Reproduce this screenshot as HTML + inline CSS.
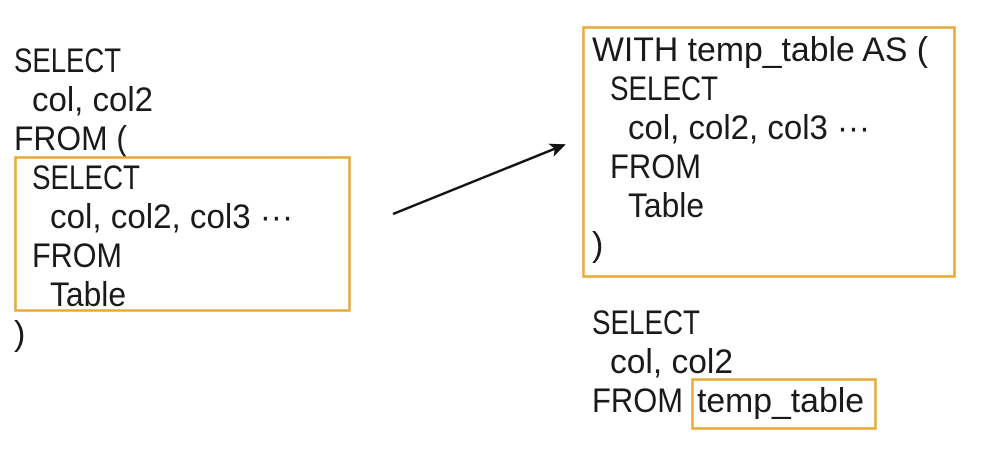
<!DOCTYPE html>
<html><head><meta charset="utf-8"><style>
html,body{margin:0;padding:0;background:#fff;width:994px;height:476px;overflow:hidden}
text{font-family:"Liberation Sans","Noto Sans CJK KR",sans-serif;font-size:34px;fill:#1a1a1a}
</style></head><body>
<svg width="994" height="476" viewBox="0 0 994 476">
<defs><marker id="ah" markerWidth="16" markerHeight="14" refX="14" refY="7" orient="auto" markerUnits="userSpaceOnUse"><path d="M0,0 L16,7 L0,14 L4,7 z" fill="#111"/></marker></defs>
<g>
<text x="14" y="72" textLength="107" lengthAdjust="spacingAndGlyphs">SELECT</text>
<text x="32" y="111" textLength="121" lengthAdjust="spacingAndGlyphs">col, col2</text>
<text x="14" y="150" textLength="113" lengthAdjust="spacingAndGlyphs">FROM (</text>
<text x="32" y="189" textLength="108" lengthAdjust="spacingAndGlyphs">SELECT</text>
<text x="50" y="228" textLength="243" lengthAdjust="spacingAndGlyphs">col, col2, col3 ···</text>
<text x="32" y="267" textLength="90" lengthAdjust="spacingAndGlyphs">FROM</text>
<text x="50" y="306" textLength="76" lengthAdjust="spacingAndGlyphs">Table</text>
<text x="14" y="345">)</text>
</g>
<rect x="15.5" y="157.5" width="334" height="153" fill="none" stroke="#e9a83a" stroke-width="2.5"/>
<line x1="393" y1="214" x2="564" y2="145" stroke="#111" stroke-width="2.5" marker-end="url(#ah)"/>
<rect x="583.5" y="27.5" width="371" height="249" fill="none" stroke="#e9a83a" stroke-width="2.5"/>
<g>
<text x="592" y="61" textLength="336" lengthAdjust="spacingAndGlyphs">WITH temp_table AS (</text>
<text x="610" y="100" textLength="108" lengthAdjust="spacingAndGlyphs">SELECT</text>
<text x="628" y="139" textLength="242" lengthAdjust="spacingAndGlyphs">col, col2, col3 ···</text>
<text x="610" y="178" textLength="91" lengthAdjust="spacingAndGlyphs">FROM</text>
<text x="628" y="217" textLength="76" lengthAdjust="spacingAndGlyphs">Table</text>
<text x="592" y="256">)</text>
<text x="592" y="334" textLength="108" lengthAdjust="spacingAndGlyphs">SELECT</text>
<text x="610" y="373" textLength="123" lengthAdjust="spacingAndGlyphs">col, col2</text>
<text x="592" y="412" textLength="91" lengthAdjust="spacingAndGlyphs">FROM</text>
<text x="697" y="412" textLength="167" lengthAdjust="spacingAndGlyphs">temp_table</text>
</g>
<rect x="692.5" y="379.5" width="183" height="49" fill="none" stroke="#e9a83a" stroke-width="2.5"/>
</svg>
</body></html>
